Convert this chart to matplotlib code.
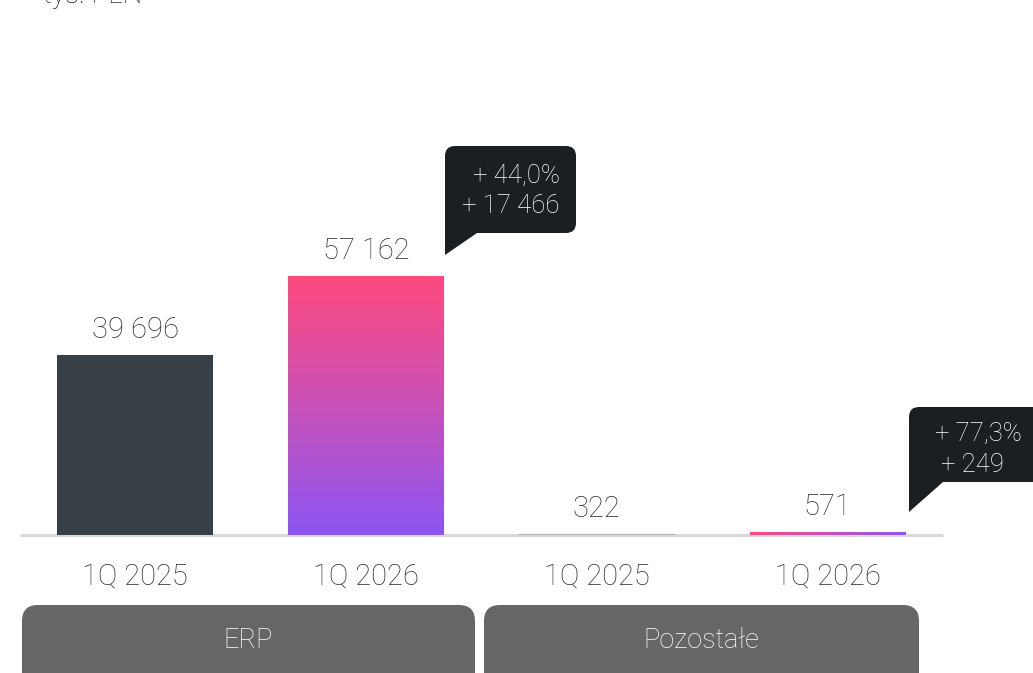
import numpy as np
import matplotlib
matplotlib.use("Agg")
import matplotlib.pyplot as plt
from matplotlib.patches import FancyBboxPatch, Polygon
from matplotlib.colors import LinearSegmentedColormap

# dane
categories = ["1Q 2025", "1Q 2026", "1Q 2025", "1Q 2026"]
values = [39696, 57162, 322, 571]
value_labels = ["39 696", "57 162", "322", "571"]
groups = ["ERP", "Pozostałe"]
callout_lines = [["+ 44,0%", "+ 17 466"], ["+ 77,3%", "+ 249"]]
unit_label = "tys. PLN"

plt.rcParams['font.family'] = ['Roboto', 'DejaVu Sans']
TXT = '#2e2e2e'
W, H = 1033, 673

fig = plt.figure(figsize=(W / 100, H / 100), dpi=100)

# główna oś: x od 20 do 943 px, y od linii bazowej (535 px) w górę
ax_left, ax_right = 20, 943
base_y, top_y = 535, 100
ax = fig.add_axes([ax_left / W, (H - base_y) / H,
                   (ax_right - ax_left) / W, (base_y - top_y) / H])
px_per_unit = 180 / 39696
ylim = (0, (base_y - top_y) / px_per_unit)
ax.axis('off')

x = np.arange(len(values))
bw = 156 / 230.75
bars = ax.bar(x, values, width=bw, zorder=2,
              color=['#373f47', 'none', '#b0b0b0', 'none'], linewidth=0)

# gradienty
pink_violet = LinearSegmentedColormap.from_list('pv', ['#8c55f2', '#c851b8', '#ff4a7d'])
for i in (1, 3):
    b = bars[i]
    x0, w, h = b.get_x(), b.get_width(), b.get_height()
    if i == 1:
        grad = np.linspace(0, 1, 256).reshape(-1, 1)
        img = ax.imshow(grad, cmap=pink_violet, origin='lower', aspect='auto',
                        extent=[x0, x0 + w, 0, h], zorder=2)
    else:
        grad = np.linspace(1, 0, 256).reshape(1, -1)
        img = ax.imshow(grad, cmap=pink_violet, origin='lower', aspect='auto',
                        extent=[x0, x0 + w, 0, h * 2.5], zorder=2)
    img.set_clip_path(b)
ax.set_xlim(-0.5, 3.5)
ax.set_ylim(*ylim)

# linia bazowa
ax.plot([-0.5, 3.5], [0, 0], color='#d9d9d9', lw=2.3, zorder=1,
        clip_on=False, solid_capstyle='butt')

for i, v in enumerate(values):
    ax.annotate(value_labels[i], (x[i], v), xytext=(0, 17 * 0.72),
                textcoords='offset points', ha='center', va='baseline',
                fontsize=21, color=TXT, fontweight='light')
    ax.annotate(categories[i], (x[i], 0), xytext=(0, -49 * 0.72),
                textcoords='offset points', ha='center', va='baseline',
                fontsize=21, color=TXT, fontweight='light', annotation_clip=False)

# warstwa dekoracji w pikselach
ov = fig.add_axes([0, 0, 1, 1], zorder=-1)
ov.set_xlim(0, W)
ov.set_ylim(H, 0)
ov.axis('off')
ov.patch.set_alpha(0)

# dymki
CALL = '#1b1f22'
callouts = [
    dict(box=(445, 146, 576, 233), tail=(477, 255), lines=[(560, 183, 'right'), (560, 213, 'right')]),
    dict(box=(909, 407, 1045, 482), tail=(943, 512), lines=[(935, 441, 'left'), (941, 472, 'left')]),
]
for c, texts in zip(callouts, callout_lines):
    bx0, by0, bx1, by1 = c['box']
    ov.add_patch(FancyBboxPatch((bx0, by0), bx1 - bx0, by1 - by0,
                                boxstyle='round,pad=0,rounding_size=10',
                                fc=CALL, ec='none'))
    tx, ty = c['tail']
    ov.add_patch(Polygon([(bx0, by1 - 12), (tx, by1), (bx0, ty)], closed=True,
                         fc=CALL, ec='none'))
    ov.add_patch(Polygon([(bx0, by1 - 12), (bx0 + 12, by1 - 12), (bx0 + 12, by1), (bx0, by1)],
                         closed=True, fc=CALL, ec='none'))
    for (lx, ly, ha), t in zip(c['lines'], texts):
        ov.text(lx, ly, t, ha=ha, va='baseline', fontsize=18.5, color='white',
                fontweight='light')

# grupy
group_boxes = [(22, 475), (484, 919)]
for (gx0, gx1), g in zip(group_boxes, groups):
    ov.add_patch(FancyBboxPatch((gx0, 605), gx1 - gx0, 90,
                                boxstyle='round,pad=0,rounding_size=16',
                                fc='#666666', ec='none'))
    ov.text((gx0 + gx1) / 2, 641, g, ha='center', va='center', fontsize=19.5,
            color='white', fontweight='light')

fig.text(43 / W, 1 - 3 / H, unit_label, ha='left', va='baseline',
         fontsize=20, color=TXT, fontweight='light')

fig.savefig('out.png', dpi=100)
